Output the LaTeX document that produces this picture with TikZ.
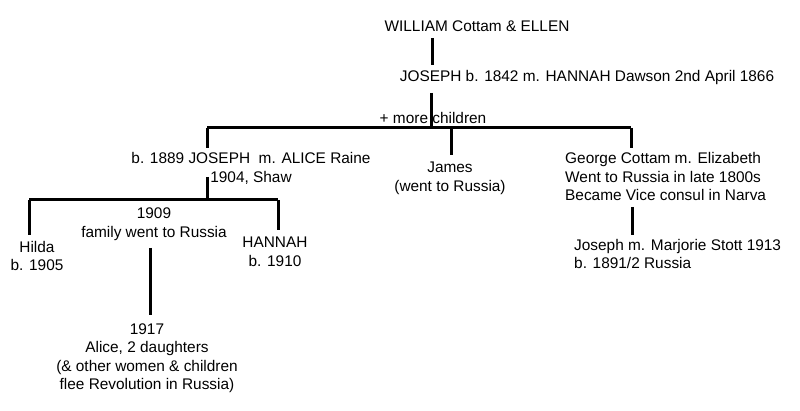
\documentclass[tikz,border=0pt]{standalone}
\usepackage{fontspec}
\setmainfont{Liberation Sans}
\begin{document}
\begin{tikzpicture}[x=1pt,y=-1pt,
  txt/.style={font=\fontsize{15.4}{18.5}\selectfont, inner sep=0pt, align=center},
  txtl/.style={font=\fontsize{15.4}{18.5}\selectfont, inner sep=0pt, align=left, anchor=west},
  tree/.style={line width=3pt}]
\useasboundingbox (0,0) rectangle (800,411);
% nodes
\node[txt] (william) at (477,26) {WILLIAM Cottam \& ELLEN};
\node[txt] (joseph1) at (587,78) {JOSEPH b. 1842 m. HANNAH Dawson 2nd April 1866};
\node[txt] (more) at (433,118) {+ more children};
\node[txt] (joseph2) at (251,168.5) {b. 1889 JOSEPH\ \ m. ALICE Raine\\1904, Shaw};
\node[txt] (james) at (450,178.5) {James\\(went to Russia)};
\node[txtl] (george) at (565,176.5) {George Cottam m. Elizabeth\\Went to Russia in late 1800s\\Became Vice consul in Narva};
\node[txtl] (jm) at (574,254) {Joseph m. Marjorie Stott 1913\\b. 1891/2 Russia};
\node[txt] (hilda) at (37,256) {Hilda\\b. 1905};
\node[txt] (y1909) at (154,224) {1909\\family went to Russia};
\node[txt] (hannah) at (275,252) {HANNAH\\b. 1910};
\node[txt] (y1917) at (147,358) {1917\\Alice, 2 daughters\\(\& other women \& children\\flee Revolution in Russia)};
% junction coordinates
\coordinate (w1) at (432,38);
\coordinate (w2) at (432,65);
\coordinate (j1) at (431,93);
\coordinate (j2) at (431,128);
\coordinate (busL) at (207,128);
\coordinate (busR) at (631,128);
\coordinate (busM) at (451,128);
\coordinate (dL) at (207,148);
\coordinate (dM) at (451,155);
\coordinate (dR) at (631,148);
\coordinate (k1) at (207,177);
\coordinate (k2) at (207,200);
\coordinate (kL) at (29,200);
\coordinate (kR) at (278,200);
\coordinate (kLd) at (29,235);
\coordinate (kRd) at (278,230);
\coordinate (f1) at (150,248);
\coordinate (f2) at (150,315);
\coordinate (g1) at (632,207);
\coordinate (g2) at (632,235);
% connectors
\draw[tree] (w1) -- (w2);
\draw[tree] (j1) -- (j2);
\draw[tree] (busL) -- (busR);
\draw[tree] (busL) -- (dL);
\draw[tree] (busM) -- (dM);
\draw[tree] (busR) -- (dR);
\draw[tree] (k1) -- (k2);
\draw[tree] (kL) -- (kR);
\draw[tree] (kL) -- (kLd);
\draw[tree] (kR) -- (kRd);
\draw[tree] (f1) -- (f2);
\draw[tree] (g1) -- (g2);
\end{tikzpicture}
\end{document}
